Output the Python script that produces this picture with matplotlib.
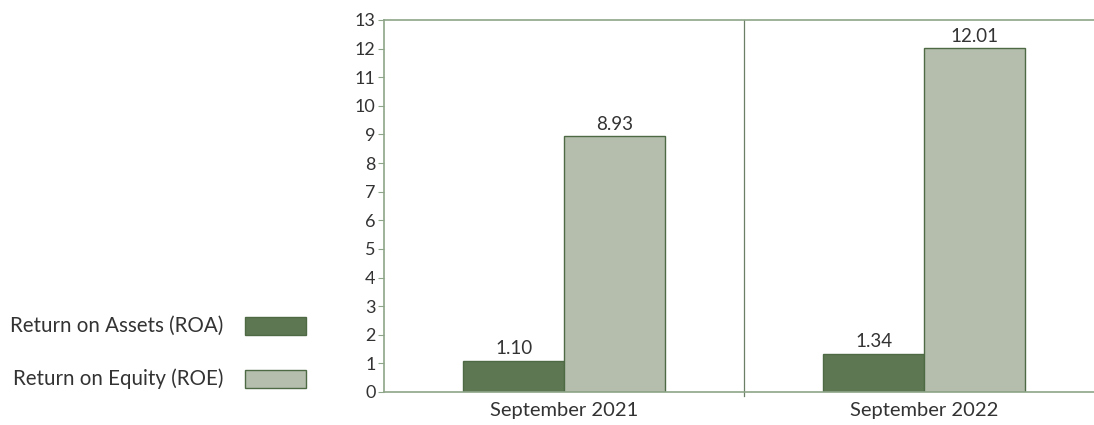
import numpy as np
import matplotlib.pyplot as plt
from matplotlib.patches import Rectangle

periods = ["September 2021", "September 2022"]
roa = [1.10, 1.34]
roe = [8.93, 12.01]
series_names = ["Return on Assets (ROA)", "Return on Equity (ROE)"]

dark = "#5d7752"
light = "#b5bead"
edge = "#4e6a44"
axis_col = "#8ea589"
text_col = "#333333"

plt.rcParams["font.family"] = ["Lato", "DejaVu Sans"]

fig = plt.figure(figsize=(10.94, 4.25), dpi=100)
W, H = 1094, 425
ax = fig.add_axes([384 / W, 1 - 392 / H, 720 / W, 372 / H])

x = np.arange(len(periods))
w = 0.28
ax.bar(x - w / 2, roa, w, color=dark, edgecolor=edge, linewidth=1)
ax.bar(x + w / 2, roe, w, color=light, edgecolor=edge, linewidth=1)

for xi, v in zip(x - w / 2, roa):
    ax.text(xi, v + 0.12, f"{v:.2f}", ha="center", va="bottom", fontsize=13.5, color=text_col)
for xi, v in zip(x + w / 2, roe):
    ax.text(xi, v + 0.12, f"{v:.2f}", ha="center", va="bottom", fontsize=13.5, color=text_col)

ax.set_xlim(-0.5, 1.5)
ax.set_ylim(0, 13)
ax.set_yticks(range(0, 14))
ax.set_xticks(x)
ax.set_xticklabels(periods, fontsize=14.5, color=text_col)
ax.tick_params(axis="x", length=0, pad=7)
ax.tick_params(axis="y", length=4, width=0.8, color=axis_col, labelsize=13, labelcolor=text_col, pad=2)
ax.axvline(0.5, color="#6b7f66", linewidth=0.9)
ax.plot([0.5, 0.5], [0, -0.15], color="#6b7f66", linewidth=0.9, clip_on=False)

for s in ["left", "top", "bottom"]:
    ax.spines[s].set_color(axis_col)
    ax.spines[s].set_linewidth(1.2)
ax.spines["right"].set_visible(False)

# legend drawn in figure pixels on the left
for i, (name, col) in enumerate(zip(series_names, [dark, light])):
    yc = 326 + i * 53
    fig.patches.append(Rectangle((245 / W, 1 - (yc + 9) / H), 61 / W, 18 / H,
                                 transform=fig.transFigure, facecolor=col,
                                 edgecolor=edge, linewidth=1))
    fig.text(223 / W, 1 - yc / H, name, ha="right", va="center", fontsize=14.8, color=text_col)

fig.savefig("out.png", dpi=100)
